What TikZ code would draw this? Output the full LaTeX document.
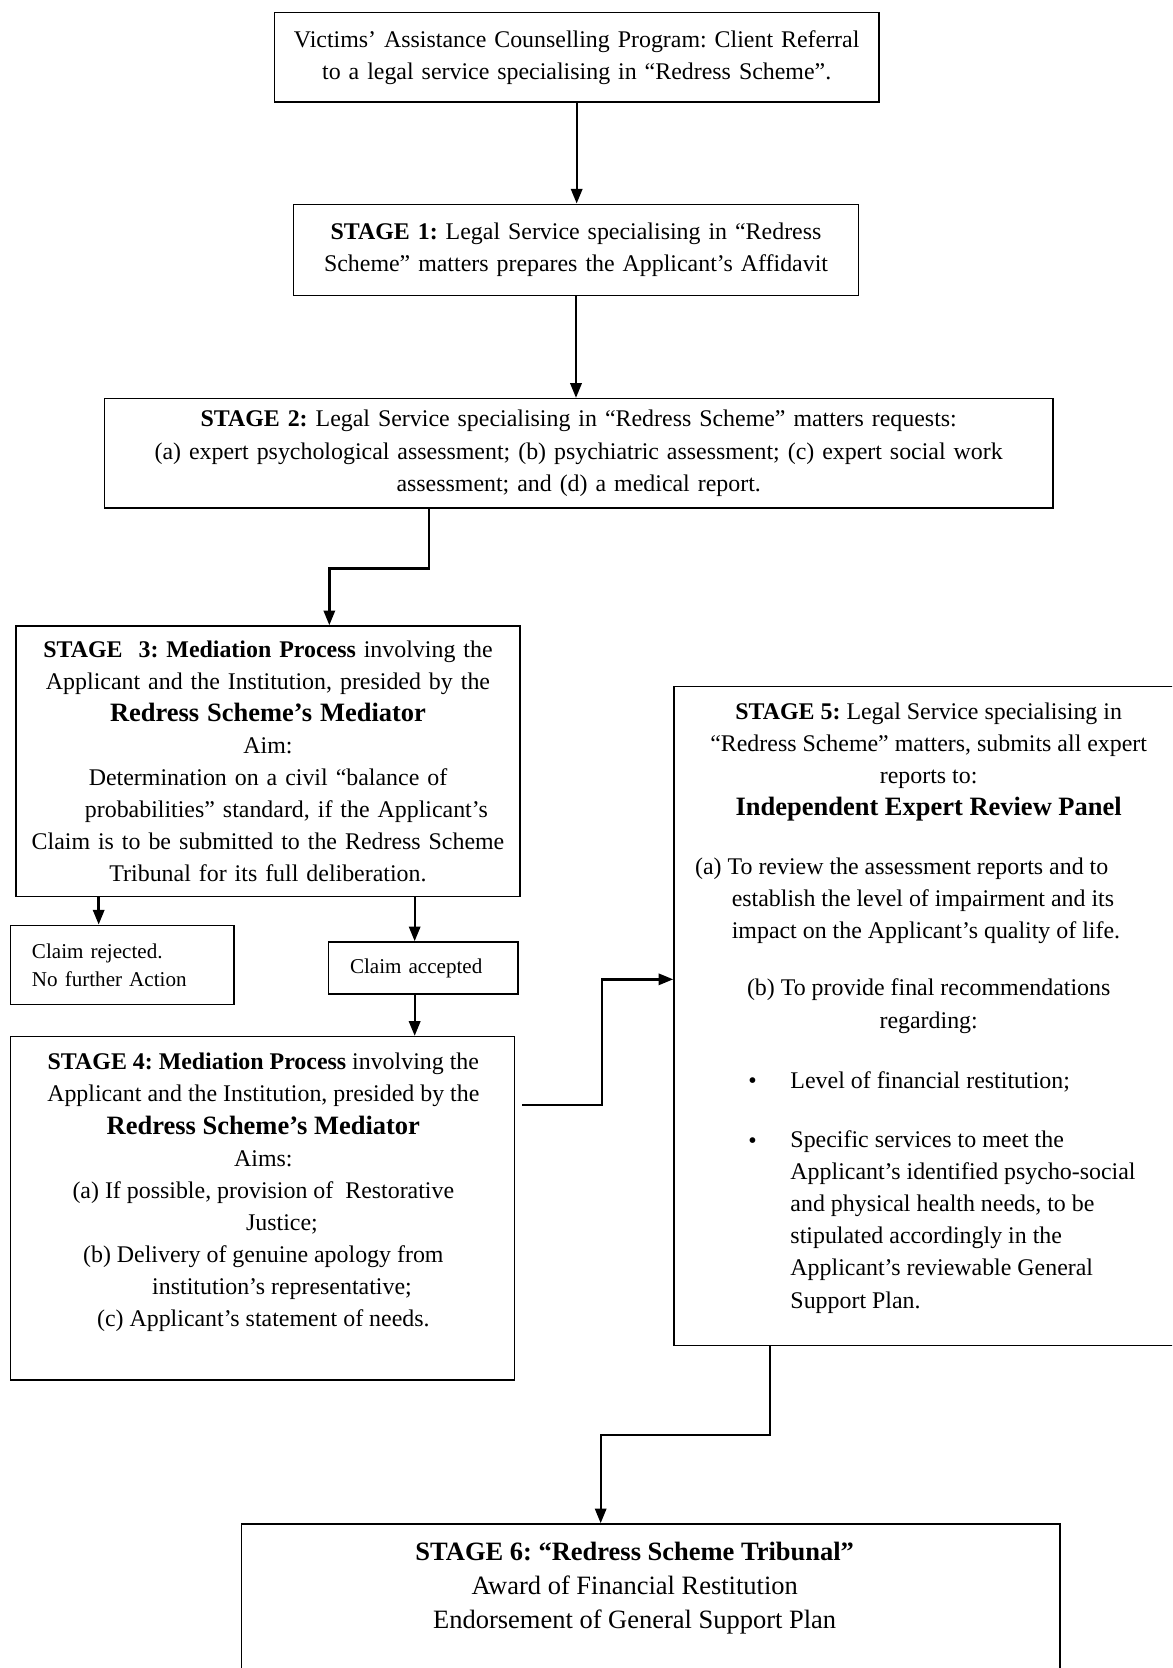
\documentclass[tikz,border=0pt]{standalone}
\usepackage{fontspec}
\setmainfont{Liberation Serif}
\usepackage{tikz}
\usetikzlibrary{arrows.meta, positioning, calc}
\frenchspacing
\newcommand{\bodyfont}{\fontsize{10.2}{13.7}\selectfont}
\newcommand{\smallfont}{\fontsize{9}{11.8}\selectfont}
\newcommand{\tribfont}{\fontsize{11.3}{14.5}\selectfont}
\newcommand{\bigbold}[1]{{\fontsize{11.3}{13.7}\selectfont\bfseries #1}}

\begin{document}
\begin{tikzpicture}[x=1mm, y=-1mm,
	box/.style={draw, line width=0.7pt, inner sep=0pt, align=center, font=\bodyfont},
	txt/.style={inner sep=0pt, font=\bodyfont},
	arr/.style={line width=1pt, -{Triangle[length=2.2mm,width=1.7mm]}}]
	\path[use as bounding box, clip] (0,0) rectangle (175.8,250.2);

	\node[box, text width=90.7mm, minimum height=13.4mm] (ref) at (86.5,8.6)
		{Victims’ Assistance Counselling Program: Client Referral\\
		to a legal service specialising in “Redress Scheme”.};
	\node[box, text width=84.7mm, minimum height=13.7mm] (s1) at (86.4,37.5)
		{\textbf{STAGE 1:} Legal Service specialising in “Redress\\
		Scheme” matters prepares the Applicant’s Affidavit};
	\node[box, text width=142.3mm, minimum height=16.4mm] (s2) at (86.8,68.0)
		{\textbf{STAGE 2:} Legal Service specialising in “Redress Scheme” matters requests:\\
		(a) expert psychological assessment; (b) psychiatric assessment; (c) expert social work\\
		assessment; and (d) a medical report.};
	\node[box, text width=75.6mm, minimum height=40.6mm] (s3) at (40.2,114.2)
		{\textbf{STAGE~~3: Mediation Process} involving the\\
		Applicant and the Institution, presided by the\\
		\bigbold{Redress Scheme’s Mediator}\\
		Aim:\\
		Determination on a civil “balance of\\
		\hspace*{5.5mm}probabilities” standard, if the Applicant’s\\
		Claim is to be submitted to the Redress Scheme\\
		Tribunal for its full deliberation.};
	\node[box, font=\smallfont, align=left, inner xsep=3.2mm, text width=27.1mm, minimum height=11.9mm] (rej) at (18.35,144.75)
		{Claim rejected.\\No further Action};
	\node[box, font=\smallfont, align=left, inner xsep=3.2mm, text width=22mm, minimum height=7.8mm] (acc) at (63.5,145.2)
		{Claim accepted};
	\node[box, minimum width=75.6mm, minimum height=51.5mm] (s4) at (39.4,181.25) {};
	\node[txt, align=center, anchor=base] (s4t) at (39.5,199.0)
		{\textbf{STAGE 4: Mediation Process} involving the\\
		Applicant and the Institution, presided by the\\
		\bigbold{Redress Scheme’s Mediator}\\
		Aims:\\
		(a) If possible, provision of~~Restorative\\
		\hspace*{5.6mm}Justice;\\
		(b) Delivery of genuine apology from\\
		\hspace*{5.6mm}institution’s representative;\\
		(c) Applicant’s statement of needs.};

	\node[box, minimum width=75.9mm, minimum height=98.8mm] (s5) at (139.05,152.4) {};
	\node[txt, align=center, anchor=base] (s5t) at (139.3,122.3)
		{\textbf{STAGE 5:} Legal Service specialising in\\
		“Redress Scheme” matters, submits all expert\\
		reports to:\\
		\bigbold{Independent Expert Review Panel}};
	\node[txt, align=left, anchor=base west] (s5a) at (104.2,140.8)
		{(a) To review the assessment reports and to\\
		\hspace*{5.5mm}establish the level of impairment and its\\
		\hspace*{5.5mm}impact on the Applicant’s quality of life.};
	\node[txt, align=center, anchor=base] (s5b) at (139.3,154.2)
		{(b) To provide final recommendations\\regarding:};
	\node[txt, anchor=base] (dot1) at (112.9,163.2) {•};
	\node[txt, anchor=base west] (item1) at (118.5,163.2) {Level of financial restitution;};
	\node[txt, anchor=base] (dot2) at (112.9,172.2) {•};
	\node[txt, align=left, anchor=base west] (item2) at (118.5,196.2)
		{Specific services to meet the\\
		Applicant’s identified psycho-social\\
		and physical health needs, to be\\
		stipulated accordingly in the\\
		Applicant’s reviewable General\\
		Support Plan.};

	\node[box, minimum width=122.8mm, minimum height=27.4mm] (s6) at (97.6,242.3) {};
	\node[txt, font=\tribfont, align=center, anchor=base] (s6t) at (95.2,244.3)
		{\textbf{STAGE 6: “Redress Scheme Tribunal”}\\
		Award of Financial Restitution\\
		Endorsement of General Support Plan};

	\coordinate (k1) at (64.3,85.3);
	\coordinate (k2) at (49.4,85.3);
	\coordinate (k3) at (90.3,165.7);
	\coordinate (k4) at (90.3,146.9);
	\coordinate (k5) at (115.5,215.2);
	\coordinate (k6) at (90.1,215.2);
	\coordinate (k7) at (14.8,0);
	\coordinate (k8) at (62.2,0);
	\coordinate (k9) at (78.3,165.7);

	\draw[arr] (ref.south) -- (ref.south |- s1.north);
	\draw[arr] (s1.south) -- (s1.south |- s2.north);
	\draw[arr] (s2.south -| k1) -- (k1) -- (k2) -- (k2 |- s3.north);
	\draw[arr] (k7 |- s3.south) -- (k7 |- rej.north);
	\draw[arr] (k8 |- s3.south) -- (k8 |- acc.north);
	\draw[arr] (k8 |- acc.south) -- (k8 |- s4.north);
	\draw[arr] (k9) -- (k3) -- (k4) -- (k4 -| s5.west);
	\draw[arr] (s5.south -| k5) -- (k5) -- (k6) -- (k6 |- s6.north);
\end{tikzpicture}
\end{document}
